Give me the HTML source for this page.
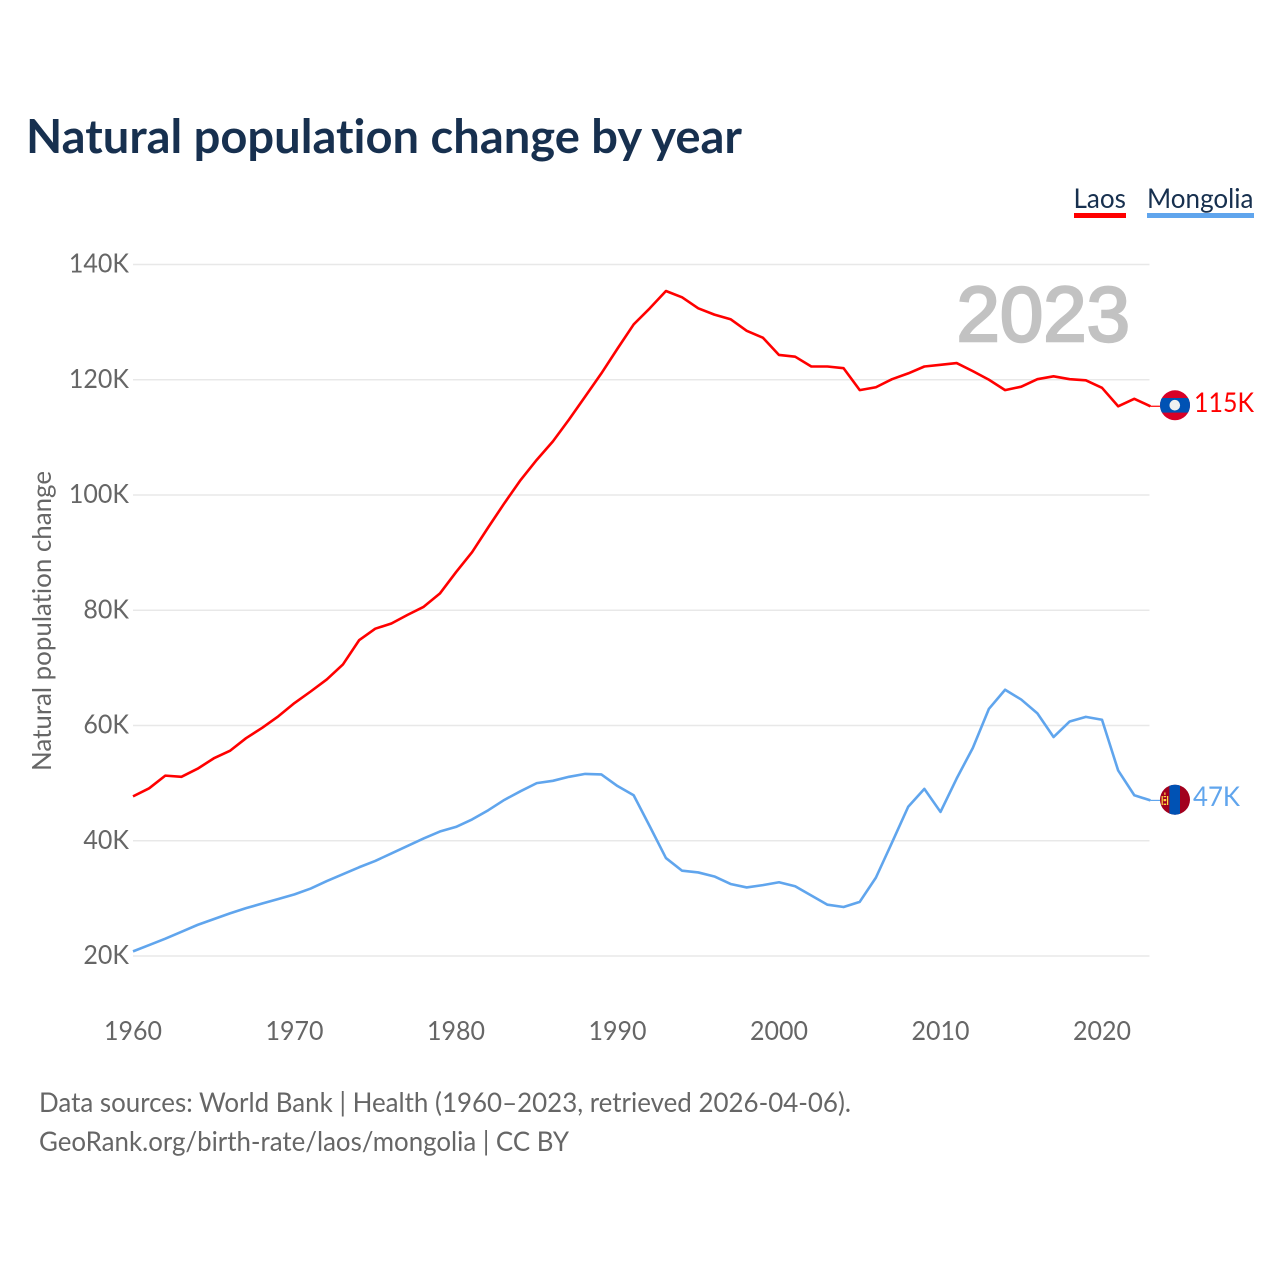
<!DOCTYPE html>
<html lang="en">
<head>
<meta charset="utf-8">
<title>Natural population change by year</title>
<style>
html,body{margin:0;padding:0;background:#fff;width:1280px;height:1280px;overflow:hidden}
svg{display:block;font-family:"Lato","Carlito","Liberation Sans",sans-serif;font-variant-ligatures:none}
</style>
</head>
<body>
<svg id="chart" width="1280" height="1280" viewBox="0 0 1280 1280" xmlns="http://www.w3.org/2000/svg">
  <rect x="0" y="0" width="1280" height="1280" fill="#ffffff"/>
  <text x="26" y="153" font-size="47" font-weight="700" fill="#17304f" textLength="716" lengthAdjust="spacingAndGlyphs">Natural population change by year</text>

  <g>
    <g>
      <text x="1073.5" y="208" font-size="27" fill="#17304f" textLength="52.5" lengthAdjust="spacingAndGlyphs">Laos</text>
      <rect x="1074" y="213" width="52" height="5" fill="#ff0000"/>
    </g>
    <g>
      <text x="1147" y="208" font-size="27" fill="#17304f" textLength="106.5" lengthAdjust="spacingAndGlyphs">Mongolia</text>
      <rect x="1147" y="213" width="107" height="5" fill="#60a5ed"/>
    </g>
  </g>

  <g id="grid"></g>
  <g id="yticks"></g>
  <g id="xticks"></g>

  <text transform="translate(51,621) rotate(-90)" text-anchor="middle" font-size="26" fill="#666666" textLength="300" lengthAdjust="spacingAndGlyphs">Natural population change</text>

  <text x="1130" y="341" text-anchor="end" font-family="'Liberation Sans',sans-serif" font-size="78" font-weight="400" fill="#c2c2c2" stroke="#c2c2c2" stroke-width="2.4">2023</text>

  <g id="series"></g>

  <g>
    <clipPath id="clip-laos"><circle cx="1175" cy="405.3" r="15"/></clipPath>
    <g clip-path="url(#clip-laos)">
      <rect x="1160" y="390" width="30" height="31" fill="#d80027"/>
      <rect x="1160" y="398" width="30" height="14.6" fill="#0052b4"/>
      <circle cx="1174.8" cy="405.2" r="5.3" fill="#f0f0f0"/>
    </g>
  </g>
  <g>
    <clipPath id="clip-mongolia"><circle cx="1175" cy="799.7" r="15"/></clipPath>
    <g clip-path="url(#clip-mongolia)">
      <rect x="1160" y="784" width="30" height="31" fill="#a2001d"/>
      <rect x="1169.4" y="784" width="10.6" height="31" fill="#0052b4"/>
      <rect x="1161.6" y="796" width="1.2" height="9" fill="#ffda44"/>
      <rect x="1167" y="796" width="1.2" height="9" fill="#ffda44"/>
      <rect x="1163.6" y="796" width="2.6" height="1.2" fill="#ffda44"/>
      <rect x="1163.6" y="799" width="2.6" height="2.2" fill="#ffda44"/>
      <rect x="1163.6" y="803.6" width="2.6" height="1.4" fill="#ffda44"/>
      <rect x="1164.3" y="792.5" width="1.2" height="2.4" fill="#ffda44"/>
    </g>
  </g>

  <text id="end-laos" x="1194" y="412" font-size="27" fill="#ff0000" textLength="60" lengthAdjust="spacingAndGlyphs">115K</text>
  <text id="end-mongolia" x="1193" y="806" font-size="27" fill="#60a5ed" textLength="47" lengthAdjust="spacingAndGlyphs">47K</text>

  <text x="39" y="1112" font-size="27" fill="#666666" textLength="812" lengthAdjust="spacingAndGlyphs">Data sources: World Bank | Health (1960–2023, retrieved 2026-04-06).</text>
  <text x="39" y="1151" font-size="27" fill="#666666" textLength="530" lengthAdjust="spacingAndGlyphs">GeoRank.org/birth-rate/laos/mongolia | CC BY</text>
</svg>

<script>
const startYear = 1960;
const yTickValues = [20, 40, 60, 80, 100, 120, 140];
const yTickLabels = ["20K", "40K", "60K", "80K", "100K", "120K", "140K"];
const xTickValues = [1960, 1970, 1980, 1990, 2000, 2010, 2020];
const xTickLabels = ["1960", "1970", "1980", "1990", "2000", "2010", "2020"];

const laosValues = [
  47.7, 49.1, 51.3, 51.1, 52.5, 54.3, 55.6, 57.8, 59.6, 61.6,
  63.9, 65.9, 68.0, 70.6, 74.8, 76.8, 77.7, 79.2, 80.6, 82.9,
  86.6, 90.1, 94.4, 98.6, 102.6, 106.1, 109.3, 113.1, 117.1, 121.1,
  125.4, 129.6, 132.4, 135.4, 134.3, 132.4, 131.3, 130.5, 128.5, 127.3,
  124.3, 124.0, 122.3, 122.3, 122.0, 118.2, 118.7, 120.1, 121.1, 122.3,
  122.6, 122.9, 121.5, 120.0, 118.2, 118.8, 120.1, 120.6, 120.1, 119.9,
  118.6, 115.4, 116.7, 115.4
];
const mongoliaValues = [
  20.8, 21.9, 23.0, 24.2, 25.4, 26.4, 27.4, 28.3, 29.1, 29.9,
  30.7, 31.7, 33.0, 34.2, 35.4, 36.5, 37.8, 39.1, 40.4, 41.6,
  42.4, 43.7, 45.3, 47.1, 48.6, 50.0, 50.4, 51.1, 51.6, 51.5,
  49.5, 47.9, 42.5, 37.0, 34.8, 34.5, 33.8, 32.5, 31.9, 32.3,
  32.8, 32.1, 30.5, 28.9, 28.5, 29.4, 33.6, 39.7, 45.9, 49.0,
  45.0, 50.8, 56.1, 62.9, 66.2, 64.5, 62.1, 58.0, 60.7, 61.5,
  61.0, 52.2, 47.9, 47.0
];

const NS = "http://www.w3.org/2000/svg";
function xScale(year) { return 133 + (year - 1960) * (1102 - 133) / 60; }
function yScale(v) { return 956 - (v - 20) * (956 - 264.5) / 120; }

function make(tag, attrs, parent, text) {
  const el = document.createElementNS(NS, tag);
  for (const k in attrs) el.setAttribute(k, attrs[k]);
  if (text !== undefined) el.textContent = text;
  parent.appendChild(el);
  return el;
}

function fitLabel(el) {
  const w = el.getComputedTextLength();
  el.setAttribute("font-size", 26);
  el.setAttribute("textLength", w.toFixed(1));
  el.setAttribute("lengthAdjust", "spacingAndGlyphs");
}

const gridG = document.getElementById("grid");
const yG = document.getElementById("yticks");
const xG = document.getElementById("xticks");
const seriesG = document.getElementById("series");
const lastYear = startYear + laosValues.length - 1;

yTickValues.forEach(function (v, i) {
  const line = make("line", { x1: 133, x2: xScale(lastYear) - 1, y1: yScale(v), y2: yScale(v), stroke: "#e8e8e8", "stroke-width": 1.5 }, gridG);
  
  
  const label = make("text", { x: 129, y: yScale(v) + 8, "text-anchor": "end", "font-size": 25, fill: "#666666" }, yG, yTickLabels[i]);
  
  
  fitLabel(label);
});

xTickValues.forEach(function (year, i) {
  const label = make("text", { x: xScale(year), y: 1040, "text-anchor": "middle", "font-size": 25, fill: "#666666" }, xG, xTickLabels[i]);
  
  
  fitLabel(label);
});

function pathFor(values) {
  return values.map(function (v, i) {
    return (i ? "L" : "M") + xScale(startYear + i).toFixed(2) + " " + yScale(v).toFixed(2);
  }).join(" ");
}

const mongoliaLine = make("path", { d: pathFor(mongoliaValues), fill: "none", stroke: "#60a5ed", "stroke-width": 2.6, "stroke-linejoin": "round" }, seriesG);



const laosLine = make("path", { d: pathFor(laosValues), fill: "none", stroke: "#ff0000", "stroke-width": 2.6, "stroke-linejoin": "round" }, seriesG);



const laosLast = laosValues[laosValues.length - 1];
const mongoliaLast = mongoliaValues[mongoliaValues.length - 1];

const laosLeader = make("line", { x1: xScale(lastYear), x2: 1160, y1: yScale(laosLast), y2: yScale(laosLast), stroke: "#ff0000", "stroke-width": 1.2 }, seriesG);



const mongoliaLeader = make("line", { x1: xScale(lastYear), x2: 1160, y1: yScale(mongoliaLast), y2: yScale(mongoliaLast), stroke: "#60a5ed", "stroke-width": 1.2 }, seriesG);



document.getElementById("end-laos").textContent = Math.round(laosLast) + "K";
document.getElementById("end-mongolia").textContent = Math.round(mongoliaLast) + "K";
</script>
</body>
</html>
